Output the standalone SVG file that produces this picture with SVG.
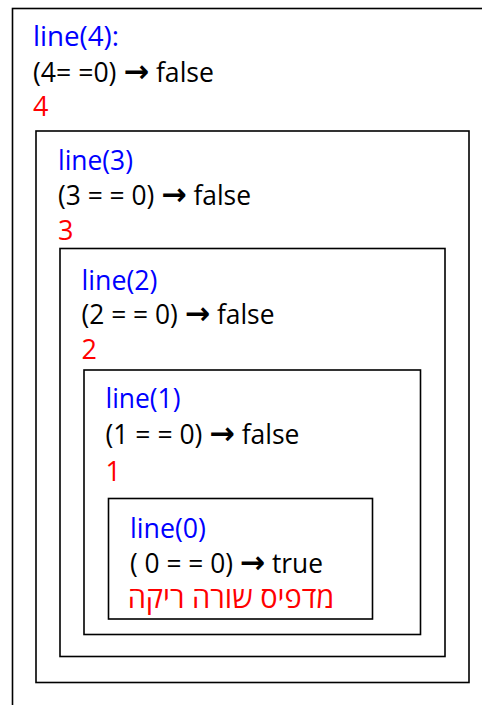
<svg xmlns="http://www.w3.org/2000/svg" width="482" height="705" viewBox="0 0 482 705">
<style>
.box{fill:none;stroke:#000;stroke-width:1.6}
text{font-family:"Open Sans","DejaVu Sans",sans-serif;font-size:27px}
.b{fill:#0000ff}
.k{fill:#000}
.r{fill:#ff0000}
.ar{font-family:"DejaVu Sans",sans-serif;font-weight:bold;font-size:31px}
.he{font-size:29px}
</style>
<rect width="482" height="705" fill="#fff"/>
<g id="call4">
<rect class="box" x="12.5" y="8.5" width="490" height="720"/>
<text class="b" x="33" y="46" textLength="86" lengthAdjust="spacingAndGlyphs">line(4):</text>
<text class="k" x="33" y="82" textLength="181" lengthAdjust="spacingAndGlyphs">(4= =0) <tspan class="ar">→</tspan> false</text>
<text class="r" x="33" y="116">4</text>
</g>
<g id="call3">
<rect class="box" x="36" y="131" width="433" height="551.5"/>
<text class="b" x="58" y="170" textLength="75" lengthAdjust="spacingAndGlyphs">line(3)</text>
<text class="k" x="58" y="204.5" textLength="193" lengthAdjust="spacingAndGlyphs">(3 = = 0) <tspan class="ar">→</tspan> false</text>
<text class="r" x="58" y="239.5">3</text>
</g>
<g id="call2">
<rect class="box" x="60" y="248.5" width="385" height="408"/>
<text class="b" x="81.5" y="290" textLength="76" lengthAdjust="spacingAndGlyphs">line(2)</text>
<text class="k" x="81.5" y="324" textLength="193" lengthAdjust="spacingAndGlyphs">(2 = = 0) <tspan class="ar">→</tspan> false</text>
<text class="r" x="81.5" y="358.5">2</text>
</g>
<g id="call1">
<rect class="box" x="84" y="370" width="336.5" height="264.5"/>
<text class="b" x="105.5" y="408" textLength="75" lengthAdjust="spacingAndGlyphs">line(1)</text>
<text class="k" x="105.5" y="444" textLength="194" lengthAdjust="spacingAndGlyphs">(1 = = 0) <tspan class="ar">→</tspan> false</text>
<text class="r" x="105.5" y="481">1</text>
</g>
<g id="call0">
<rect class="box" x="108.5" y="498.5" width="264" height="120.5"/>
<text class="b" x="130" y="538" textLength="76" lengthAdjust="spacingAndGlyphs">line(0)</text>
<text class="k" x="130" y="572.5" textLength="193" lengthAdjust="spacingAndGlyphs">( 0 = = 0) <tspan class="ar">→</tspan> true</text>
<text class="r he" x="231" y="607.5" text-anchor="middle">מדפיס שורה ריקה</text>
</g>
</svg>
